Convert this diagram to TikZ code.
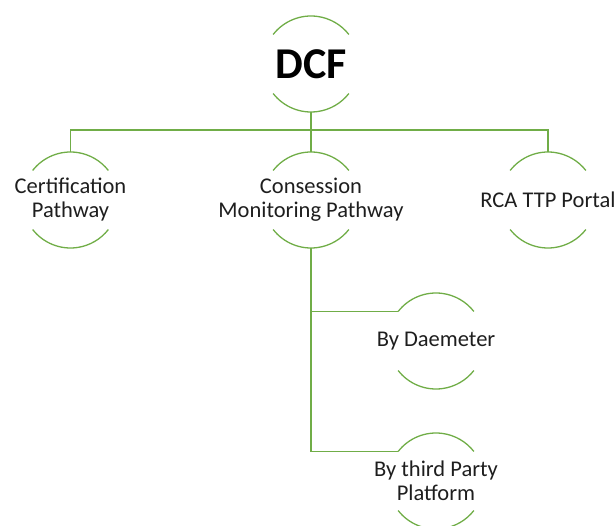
\documentclass[tikz,border=0pt]{standalone}
\usepackage{fontspec}
\setmainfont{Carlito}
\definecolor{ogreen}{RGB}{112,173,71}
\definecolor{txtgray}{RGB}{30,30,30}
\tikzset{
  ring/.style={circle,minimum size=96pt,inner sep=0pt,outer sep=0pt},
  ln/.style={draw=ogreen,line width=1.3pt},
  lbl/.style={align=center,text=txtgray,font=\fontsize{22.5}{24}\selectfont,inner sep=0pt},
  big/.style={text=black,font=\fontsize{44}{50}\selectfont\bfseries,inner sep=0pt}
}
\newcommand{\ringarcs}[1]{%
  \draw[ln] (#1.142) arc[start angle=142,end angle=38,radius=48pt];
  \draw[ln] (#1.218) arc[start angle=218,end angle=322,radius=48pt];}
\begin{document}
\begin{tikzpicture}[x=1pt,y=1pt]
\useasboundingbox (0,0) rectangle (615,-526);
\node[ring] (dcf) at (311,-64) {};
\node[ring] (cert) at (70.5,-200) {};
\node[ring] (cons) at (311,-200) {};
\node[ring] (rca) at (548,-200) {};
\node[ring] (daem) at (436,-341) {};
\node[ring] (third) at (436,-481) {};
\ringarcs{dcf}\ringarcs{cert}\ringarcs{cons}\ringarcs{rca}\ringarcs{daem}\ringarcs{third}
\node[big] (dcft) at (dcf) {DCF};
\node[lbl] (certt) at (cert) {Certification\\Pathway};
\node[lbl] (const) at (cons) {Consession\\Monitoring Pathway};
\node[lbl] (rcat) at (rca) {RCA TTP Portal};
\node[lbl] (daemt) at (daem) {By Daemeter};
\node[lbl] (thirdt) at (third) {By third Party\\Platform};
\coordinate (bus) at (311,-130);
\draw[ln] (dcf.south) -- (bus);
\draw[ln] (cert.north) |- (bus) -| (rca.north);
\draw[ln] (cons.north) -- (bus);
\draw[ln] (cons.south) |- (third.142);
\draw[ln] (cons.south |- daem.142) -- (daem.142);
\end{tikzpicture}
\end{document}
